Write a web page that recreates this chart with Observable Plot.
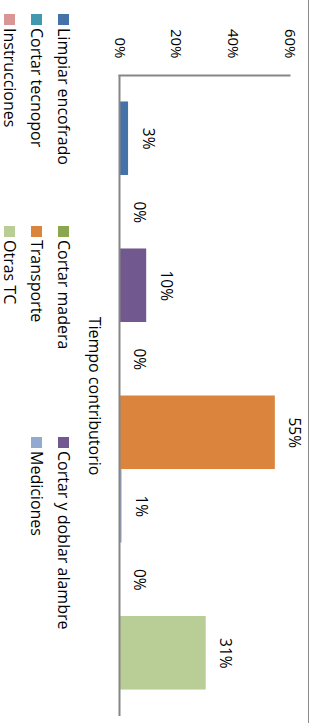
<!DOCTYPE html>
<html><head><meta charset="utf-8">
<script src="https://cdn.jsdelivr.net/npm/d3@7"></script>
<script src="https://cdn.jsdelivr.net/npm/@observablehq/plot@0.6"></script>
<style>
html,body{margin:0;padding:0;background:#fff;}
#wrap{position:relative;width:309px;height:723px;overflow:hidden;font-family:"Open Sans",sans-serif;}
#wrap svg{position:absolute;left:0;top:0;border-right:1px solid #8a8a8a;}
#legend{position:absolute;left:-4px;top:14px;width:81px;height:640px;writing-mode:vertical-rl;display:flex;flex-wrap:wrap;align-content:flex-start;font-size:16px;color:#000;line-height:1;}
.item{display:flex;align-items:center;inline-size:211.5px;block-size:27px;white-space:nowrap;}
.sw{inline-size:11px;block-size:11px;margin-inline-end:3px;flex:none;}
</style></head>
<body><div id="wrap"><div id="legend"></div></div>
<script>
const series = ["Limpiar encofrado","Cortar madera","Cortar y doblar alambre","Cortar tecnopor","Transporte","Mediciones","Instrucciones","Otras TC"];
const values = [0.032, 0, 0.096, 0, 0.55, 0.009, 0, 0.306];
const colors = ["#4672AA","#8AA64F","#71588F","#4198AF","#DB843D","#93A9CF","#D99694","#B9CD96"];
const category = "Tiempo contributorio";
const ticks = [0, 0.2, 0.4, 0.6];

const data = series.map((s, i) => ({serie: s, value: values[i]}));
const fmt = d3.format(".0%");

const chart = Plot.plot({
  width: 308, height: 723,
  marginTop: 75, marginLeft: 119, marginRight: 19, marginBottom: 7,
  style: {fontFamily: '"Open Sans", sans-serif', fontSize: "16px", color: "#000", background: "#fff", overflow: "visible"},
  x: {domain: [0, 0.6], axis: null, label: null},
  y: {domain: series, paddingInner: 0, paddingOuter: 0.36, round: false, axis: null, label: null},
  color: {domain: series, range: colors},
  marks: [
    Plot.barX(data, {x: "value", y: "serie", fill: "serie", insetTop: 0, insetBottom: 0}),
    Plot.ruleX([0], {stroke: "#868686", strokeWidth: 2}),
    Plot.frame({anchor: "top", stroke: "#868686", strokeWidth: 2}),
    Plot.axisX(ticks, {anchor: "top", label: null, tickSize: 0, tickPadding: 17, tickFormat: fmt, rotate: 90, textAnchor: "end", lineAnchor: "middle", fontSize: 15, fill: "#000"}),
    Plot.text(data, {x: "value", y: "serie", text: d => fmt(d.value), rotate: 90, dx: 19, textAnchor: "middle", lineAnchor: "middle", fontSize: 15.5, fill: "#000"}),
    Plot.text([category], {frameAnchor: "left", text: d => d, rotate: 90, dx: -25, textAnchor: "middle", lineAnchor: "middle", fontSize: 16, fill: "#000"})
  ]
});
document.getElementById("wrap").prepend(chart);

const legend = document.getElementById("legend");
series.forEach((s, i) => {
  const it = document.createElement("div");
  it.className = "item";
  const sw = document.createElement("span");
  sw.className = "sw";
  sw.style.background = colors[i];
  const tx = document.createElement("span");
  tx.textContent = s;
  it.append(sw, tx);
  legend.append(it);
});
</script>
</body></html>
